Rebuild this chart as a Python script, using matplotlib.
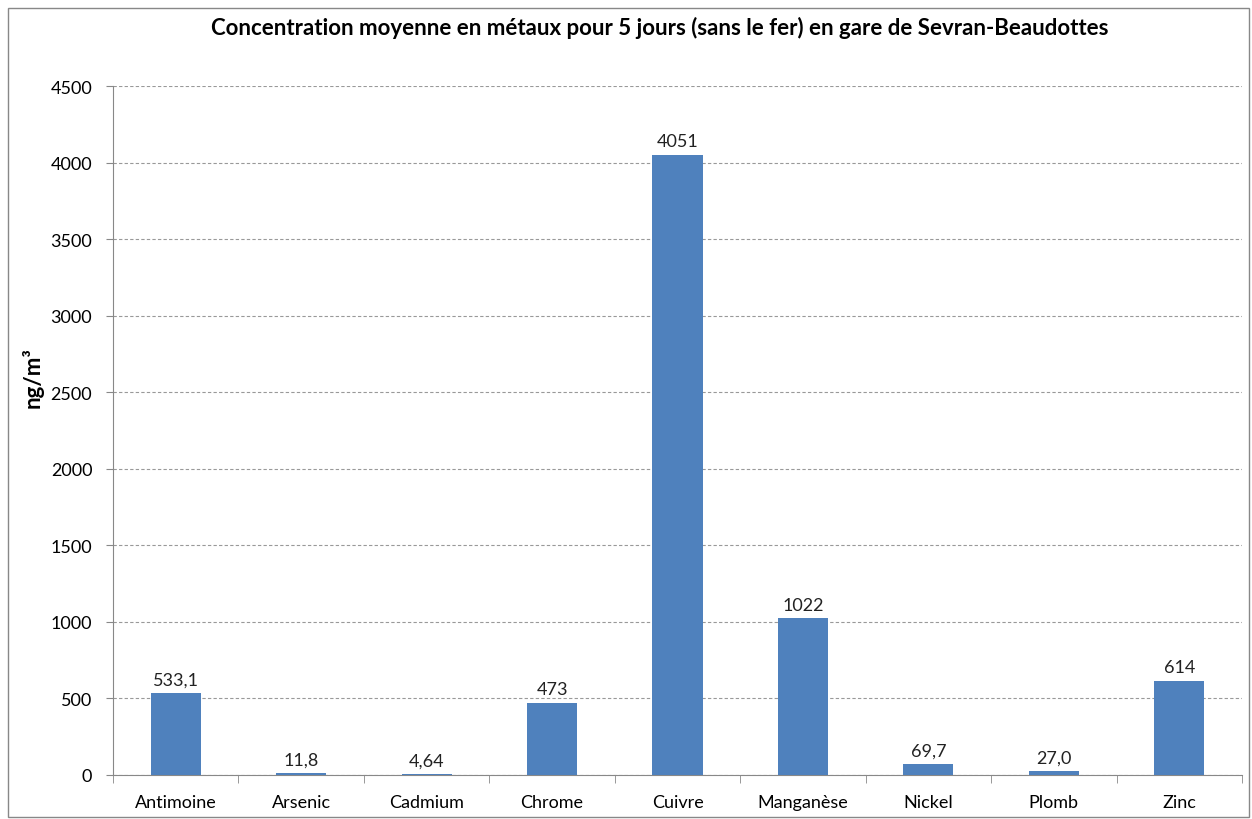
import numpy as np
import matplotlib.pyplot as plt

metaux = ['Antimoine', 'Arsenic', 'Cadmium', 'Chrome', 'Cuivre',
          'Manganèse', 'Nickel', 'Plomb', 'Zinc']
valeurs = [533.1, 11.8, 4.64, 473, 4051, 1022, 69.7, 27.0, 614]
etiquettes = ['533,1', '11,8', '4,64', '473', '4051', '1022', '69,7', '27,0', '614']

plt.rcParams['font.family'] = ['Lato', 'DejaVu Sans']

fig = plt.figure(figsize=(12.52, 8.2), dpi=100)
ax = fig.add_axes([0.0903, 0.0537, 0.9017, 0.8402])

x = np.arange(len(metaux))
barres = ax.bar(x, valeurs, width=0.4, color='#4F81BD', zorder=3)
for b, lab in zip(barres, etiquettes):
    ax.annotate(lab, (b.get_x() + b.get_width() / 2, b.get_height()),
                xytext=(0, 4), textcoords='offset points',
                ha='center', va='bottom', fontsize=13, color='#222222')

ax.set_xlim(-0.5, len(metaux) - 0.5)
ax.set_ylim(0, 4500)
ax.set_yticks(np.arange(0, 4501, 500))
ax.set_xticks(x)
ax.set_xticklabels(metaux, fontsize=13)
ax.tick_params(axis='y', labelsize=13, length=5, pad=10, color='#888888')
ax.tick_params(axis='x', length=0, pad=14)
ax.set_xticks(np.arange(-0.5, len(metaux)), minor=True)
ax.tick_params(axis='x', which='minor', length=6, color='#888888')

ax.grid(axis='y', linestyle=(0, (3, 2)), color='#999999', linewidth=0.8, zorder=0)
for s in ['top', 'right']:
    ax.spines[s].set_visible(False)
ax.spines['left'].set_color('#888888')
ax.spines['bottom'].set_color('#888888')

# axis title sits a bit above the middle, like in the original
ax.set_ylabel('ng/m³', fontsize=16, fontweight='bold')
ax.yaxis.label.set_verticalalignment('center')
ax.yaxis.set_label_coords(-0.071, 0.578)
fig.text(0.527, 0.966, 'Concentration moyenne en métaux pour 5 jours (sans le fer) en gare de Sevran-Beaudottes',
         ha='center', va='center', fontsize=16, fontweight='bold')

fig.patches.append(plt.Rectangle((0.0064, 0.003), 0.991, 0.986, transform=fig.transFigure,
                                 fill=False, edgecolor='#888888', linewidth=1))

fig.savefig('out.png', dpi=100)
